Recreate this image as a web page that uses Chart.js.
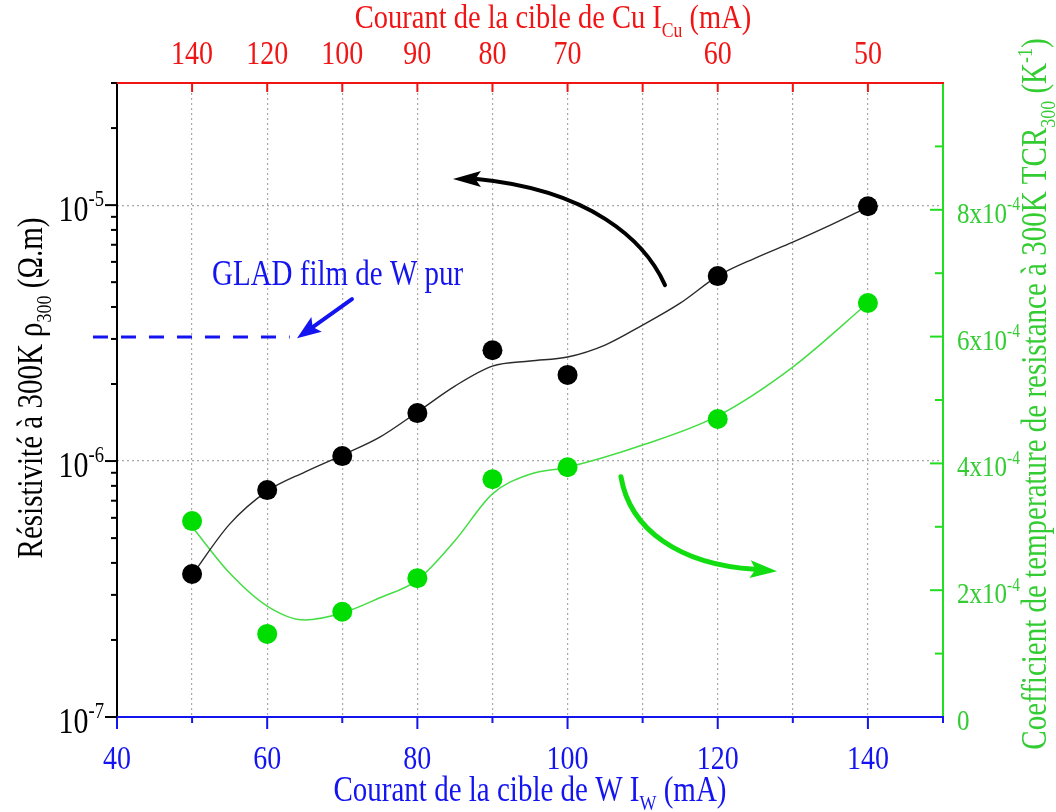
<!DOCTYPE html>
<html><head><meta charset="utf-8">
<script src="https://cdn.jsdelivr.net/npm/chart.js@4.4.1/dist/chart.umd.min.js"></script>
<style>html,body{margin:0;padding:0;background:#fff;}#wrap{width:1056px;height:812px;}</style>
</head><body><div id="wrap"><canvas id="c" width="1056" height="812"></canvas></div>
<script>
// ---------- data ----------
const currentW = [50, 60, 70, 80, 90, 100, 120, 140];               // W target current (mA)
const resistivity = [3.62e-7, 7.70e-7, 1.046e-6, 1.54e-6, 2.71e-6, 2.17e-6, 5.28e-6, 9.9e-6]; // Ω.m
const tcr = [3.09e-4, 1.31e-4, 1.66e-4, 2.19e-4, 3.75e-4, 3.94e-4, 4.70e-4, 6.53e-4];          // K^-1

const rhoFitW = [50, 55, 60, 65, 70, 75, 80, 85, 90, 95, 100, 105, 110, 115, 120, 125, 130, 135, 140];
const rhoFit = [3.59e-7, 5.67e-7, 7.63e-7, 9.06e-7, 1.055e-6, 1.24e-6, 1.554e-6, 1.963e-6, 2.35e-6, 2.46e-6,
                2.55e-6, 2.84e-6, 3.40e-6, 4.14e-6, 5.28e-6, 6.21e-6, 7.17e-6, 8.35e-6, 9.82e-6];
const tcrFitW = [50, 55, 60, 65, 70, 75, 80, 85, 90, 95, 100, 110, 120, 130, 140];
const tcrFit = [3.00e-4, 2.27e-4, 1.75e-4, 1.53e-4, 1.64e-4, 1.88e-4, 2.16e-4, 2.78e-4, 3.52e-4, 3.83e-4,
                3.94e-4, 4.29e-4, 4.75e-4, 5.52e-4, 6.53e-4];

const gladW = [36.8, 63.0];          // pure W GLAD film reference (dashed)
const gladRho = [3.05e-6, 3.05e-6];

// ---------- ticks ----------
const wTickValues = [40, 60, 80, 100, 120, 140];
const wTickLabels = ['40', '60', '80', '100', '120', '140'];
const wMinorTicks = [50, 70, 90, 110, 130, 150];
const wGridValues = [50, 60, 70, 80, 90, 100, 110, 120, 130, 140];
const cuTickMarks = [50, 60, 70, 80, 90, 100, 110, 120, 130, 140];
const cuTickPositions = [50, 60, 70, 80, 90, 100, 120, 140];
const cuTickLabels = ['140', '120', '100', '90', '80', '70', '60', '50'];
const rhoTickValues = [1e-7, 1e-6, 1e-5];
const rhoTickExponents = ['-7', '-6', '-5'];
const rhoMinorTicks = [2e-7, 3e-7, 4e-7, 5e-7, 6e-7, 7e-7, 8e-7, 9e-7, 2e-6, 3e-6, 4e-6, 5e-6, 6e-6, 7e-6, 8e-6, 9e-6, 2e-5, 3e-5];
const tcrTickValues = [0, 2e-4, 4e-4, 6e-4, 8e-4];
const tcrTickMantissa = ['0', '2x10', '4x10', '6x10', '8x10'];
const tcrMinorTicks = [1e-4, 3e-4, 5e-4, 7e-4, 9e-4];

// ---------- annotations (data coordinates) ----------
const arrowRho = {w: [112.98, 110.31, 102.99, 88.34], v: [4.87e-6, 7.29e-6, 1.145e-5, 1.264e-5], tipW: 84.74, tipV: 1.264e-5};
const arrowTcr = {w: [107.11, 108.31, 114.97, 124.56], v: [3.79e-4, 2.95e-4, 2.40e-4, 2.33e-4], tipW: 127.9, tipV: 2.30e-4};
const arrowGlad = {w: [71.29], v: [4.29e-6], tipW: 63.97, tipV: 3.02e-6};
const gladText = {w: 52.65, v: 5.42e-6, text: 'GLAD film de W pur'};

// ---------- style ----------
const FONT = '"Liberation Serif", "Times New Roman", serif';
const STRETCH = 1.2;
const BLUE = '#1414f0', RED = '#f01414', GREEN_AX = '#22dd22', GREEN_TXT = '#33cc33';

function drawRuns(ctx, runs, x, y, o) {
  const size = o.size, align = o.align || 'center';
  ctx.save();
  ctx.translate(x, y);
  if (o.rot) ctx.rotate(o.rot);
  ctx.scale(1, o.stretch || STRETCH);
  ctx.fillStyle = o.color;
  ctx.textBaseline = 'alphabetic';
  let w = 0; const m = [];
  for (const r of runs) {
    const fs = r.k ? size * 0.62 : size;
    ctx.font = fs + 'px ' + FONT;
    const rw = ctx.measureText(r.t).width;
    m.push([fs, rw]); w += rw;
  }
  let sx = align === 'center' ? -w / 2 : (align === 'right' ? -w : 0);
  const base = size * 0.33;
  runs.forEach((r, i) => {
    const [fs, rw] = m[i];
    ctx.font = fs + 'px ' + FONT;
    let dy = base;
    if (r.k === 'sub') dy += size * 0.25;
    if (r.k === 'sup') dy -= size * 0.42;
    ctx.fillText(r.t, sx, dy);
    sx += rw;
  });
  ctx.restore();
}

function arrowHead(ctx, tx, ty, fx, fy, len, half, color) {
  const dx = tx - fx, dy = ty - fy, L = Math.hypot(dx, dy), ux = dx / L, uy = dy / L;
  const bx = tx - ux * len, by = ty - uy * len;
  const nx = tx - ux * len * 0.8, ny = ty - uy * len * 0.8;
  ctx.fillStyle = color;
  ctx.beginPath();
  ctx.moveTo(tx, ty);
  ctx.lineTo(bx - uy * half, by + ux * half);
  ctx.lineTo(nx, ny);
  ctx.lineTo(bx + uy * half, by - ux * half);
  ctx.closePath();
  ctx.fill();
}

const decor = {
  id: 'decor',
  afterDraw(chart) {
    const ctx = chart.ctx, a = chart.chartArea;
    const sx = chart.scales.x, sl = chart.scales.yL, sr = chart.scales.yR;
    ctx.save();
    ctx.lineCap = 'butt';
    // --- annotations ---
    {
      const p = arrowRho.w.map((w, i) => [sx.getPixelForValue(w), sl.getPixelForValue(arrowRho.v[i])]);
      const tx = sx.getPixelForValue(arrowRho.tipW), ty = sl.getPixelForValue(arrowRho.tipV);
      ctx.strokeStyle = '#000'; ctx.lineWidth = 4; ctx.lineCap = 'round';
      ctx.beginPath(); ctx.moveTo(p[0][0], p[0][1]);
      ctx.bezierCurveTo(p[1][0], p[1][1], p[2][0], p[2][1], p[3][0] - 3, p[3][1]); ctx.stroke();
      arrowHead(ctx, tx, ty, p[3][0], p[3][1], 28, 8, '#000');
    }
    {
      const p = arrowTcr.w.map((w, i) => [sx.getPixelForValue(w), sr.getPixelForValue(arrowTcr.v[i])]);
      const tx = sx.getPixelForValue(arrowTcr.tipW), ty = sr.getPixelForValue(arrowTcr.tipV);
      ctx.strokeStyle = '#11dd11'; ctx.lineWidth = 5; ctx.lineCap = 'round';
      ctx.beginPath(); ctx.moveTo(p[0][0], p[0][1]);
      ctx.bezierCurveTo(p[1][0], p[1][1], p[2][0], p[2][1], p[3][0] + 3, p[3][1]); ctx.stroke();
      arrowHead(ctx, tx, ty, p[3][0], p[3][1], 27, 9, '#11dd11');
    }
    {
      const x0 = sx.getPixelForValue(arrowGlad.w[0]), y0 = sl.getPixelForValue(arrowGlad.v[0]);
      const tx = sx.getPixelForValue(arrowGlad.tipW), ty = sl.getPixelForValue(arrowGlad.tipV);
      const dx = tx - x0, dy = ty - y0, L = Math.hypot(dx, dy);
      ctx.strokeStyle = BLUE; ctx.lineWidth = 4; ctx.lineCap = 'round';
      ctx.beginPath(); ctx.moveTo(x0, y0); ctx.lineTo(tx - dx / L * 18, ty - dy / L * 18); ctx.stroke();
      arrowHead(ctx, tx, ty, x0, y0, 24, 9, BLUE);
    }
    drawRuns(ctx, [{t: gladText.text}], sx.getPixelForValue(gladText.w), sl.getPixelForValue(gladText.v),
      {size: 29, color: BLUE, align: 'left'});

    // --- axis lines ---
    ctx.lineCap = 'butt';
    ctx.lineWidth = 2;
    ctx.strokeStyle = '#000'; ctx.beginPath(); ctx.moveTo(a.left, a.top); ctx.lineTo(a.left, a.bottom); ctx.stroke();
    ctx.strokeStyle = GREEN_AX; ctx.beginPath(); ctx.moveTo(a.right, a.top); ctx.lineTo(a.right, a.bottom); ctx.stroke();
    ctx.strokeStyle = RED; ctx.beginPath(); ctx.moveTo(a.left, a.top); ctx.lineTo(a.right + 1, a.top); ctx.stroke();
    ctx.strokeStyle = BLUE; ctx.beginPath(); ctx.moveTo(a.left - 1, a.bottom); ctx.lineTo(a.right + 1, a.bottom); ctx.stroke();

    // --- tick marks ---
    const tick = (x1, y1, x2, y2, c) => { ctx.strokeStyle = c; ctx.beginPath(); ctx.moveTo(x1, y1); ctx.lineTo(x2, y2); ctx.stroke(); };
    wTickValues.forEach(v => { const x = sx.getPixelForValue(v); tick(x, a.bottom, x, a.bottom + 12, BLUE); });
    wMinorTicks.forEach(v => { const x = sx.getPixelForValue(v); tick(x, a.bottom, x, a.bottom + 6, BLUE); });
    cuTickMarks.forEach(v => { const x = sx.getPixelForValue(v); tick(x, a.top, x, a.top + 9, RED); });
    rhoTickValues.forEach(v => { const y = sl.getPixelForValue(v); tick(a.left, y, a.left - 12, y, '#000'); });
    rhoMinorTicks.forEach(v => { const y = sl.getPixelForValue(v); tick(a.left, y, a.left - 6, y, '#000'); });
    tcrTickValues.forEach(v => { if (v === 0) return; const y = sr.getPixelForValue(v); tick(a.right, y, a.right - 13, y, GREEN_AX); });
    tcrMinorTicks.forEach(v => { const y = sr.getPixelForValue(v); tick(a.right, y, a.right - 8, y, GREEN_AX); });

    // --- tick labels ---
    wTickValues.forEach((v, i) => drawRuns(ctx, [{t: wTickLabels[i]}], sx.getPixelForValue(v), 758, {size: 28, color: BLUE}));
    cuTickPositions.forEach((v, i) => drawRuns(ctx, [{t: cuTickLabels[i]}], sx.getPixelForValue(v), 53, {size: 28, color: RED}));
    rhoTickValues.forEach((v, i) => drawRuns(ctx, [{t: '10'}, {t: rhoTickExponents[i], k: 'sup'}], 104, sl.getPixelForValue(v) + 4,
      {size: 30, color: '#000', align: 'right'}));
    tcrTickValues.forEach((v, i) => {
      const runs = i === 0 ? [{t: '0'}] : [{t: tcrTickMantissa[i]}, {t: '-4', k: 'sup'}];
      drawRuns(ctx, runs, 957, sr.getPixelForValue(v) + 3, {size: 25, color: GREEN_TXT, align: 'left'});
    });

    // --- axis titles ---
    drawRuns(ctx, [{t: 'Courant de la cible de W I'}, {t: 'W', k: 'sub'}, {t: ' (mA)'}], 530, 790, {size: 29, color: BLUE});
    drawRuns(ctx, [{t: 'Courant de la cible de Cu I'}, {t: 'Cu', k: 'sub'}, {t: ' (mA)'}], 553, 17, {size: 28.5, color: RED});
    drawRuns(ctx, [{t: 'Résistivité à 300K ρ'}, {t: '300', k: 'sub'}, {t: ' (Ω.m)'}], 31, 388, {size: 29, color: '#000', rot: -Math.PI / 2});
    drawRuns(ctx, [{t: 'Coefficient de temperature de resistance à 300K TCR'}, {t: '300', k: 'sub'}, {t: ' (K'}, {t: '-1', k: 'sup'}, {t: ')'}],
      1035, 394, {size: 29, color: GREEN_TXT, rot: -Math.PI / 2});
    ctx.restore();
  }
};

const pts = (xs, ys) => xs.map((x, i) => ({x: x, y: ys[i]}));

new Chart(document.getElementById('c'), {
  type: 'line',
  data: {
    datasets: [
      {label: 'ρ300', data: pts(currentW, resistivity), xAxisID: 'x', yAxisID: 'yL', showLine: false,
       pointRadius: 10, pointBackgroundColor: '#000', pointBorderWidth: 0, order: 0},
      {label: 'TCR300', data: pts(currentW, tcr), xAxisID: 'x', yAxisID: 'yR', showLine: false,
       pointRadius: 10, pointBackgroundColor: '#00dd00', pointBorderWidth: 0, order: 0},
      {label: 'ρ fit', data: pts(rhoFitW, rhoFit), xAxisID: 'x', yAxisID: 'yL', borderColor: '#2a2a2a', borderWidth: 1.4,
       pointRadius: 0, cubicInterpolationMode: 'monotone', order: 1},
      {label: 'TCR fit', data: pts(tcrFitW, tcrFit), xAxisID: 'x', yAxisID: 'yR', borderColor: '#44dd44', borderWidth: 1.5,
       pointRadius: 0, cubicInterpolationMode: 'monotone', order: 1},
      {label: 'GLAD W pur', data: pts(gladW, gladRho), xAxisID: 'x', yAxisID: 'yL', borderColor: BLUE, borderWidth: 3,
       borderDash: [15, 13], pointRadius: 0, clip: false, order: 1}
    ]
  },
  options: {
    responsive: false, animation: false, devicePixelRatio: 1,
    layout: {padding: 0},
    plugins: {legend: {display: false}, tooltip: {enabled: false}},
    scales: {
      x: {type: 'linear', position: 'bottom', min: 40, max: 150,
          afterBuildTicks: s => { s.ticks = wGridValues.map(v => ({value: v})); },
          afterFit: s => { s.height = 95; },
          ticks: {display: false},
          grid: {drawTicks: false, color: '#a8a8a8', lineWidth: 1.2},
          border: {display: false, dash: [2, 3]}},
      xTop: {type: 'linear', position: 'top', min: 40, max: 150,
          afterFit: s => { s.height = 83; },
          ticks: {display: false}, grid: {display: false}, border: {display: false}},
      yL: {type: 'logarithmic', position: 'left', min: 1e-7, max: 3e-5,
          afterBuildTicks: s => { s.ticks = rhoTickValues.slice(1).map(v => ({value: v})); },
          afterFit: s => { s.width = 117; },
          ticks: {display: false},
          grid: {drawTicks: false, color: '#a8a8a8', lineWidth: 1.2},
          border: {display: false, dash: [2, 3]}},
      yR: {type: 'linear', position: 'right', min: 0, max: 1e-3,
          afterFit: s => { s.width = 113; },
          ticks: {display: false}, grid: {display: false}, border: {display: false}}
    }
  },
  plugins: [decor]
});
</script>
</body></html>
